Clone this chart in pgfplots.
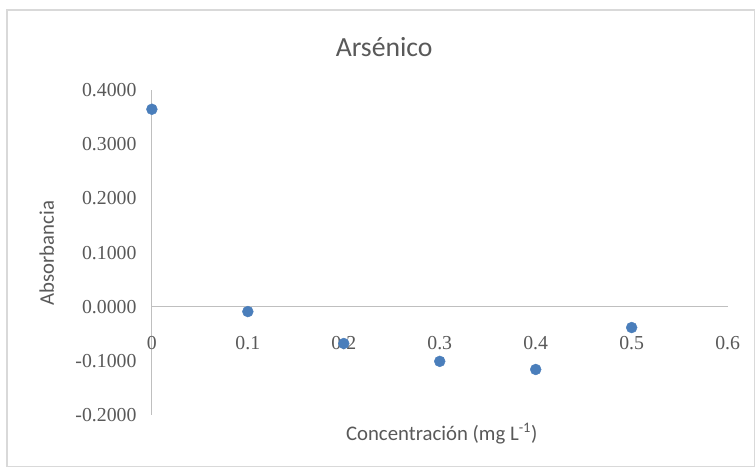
\documentclass[border=0pt]{standalone}
\usepackage{pgfplots}
\pgfplotsset{compat=1.18}
\usepackage{fontspec}
\setmainfont{Carlito}
\newfontfamily\tickfont{Liberation Serif}
\definecolor{mk}{HTML}{4A7EBB}
\definecolor{txt}{HTML}{595959}
\definecolor{ax}{HTML}{BFBFBF}
\begin{document}
\begin{tikzpicture}[x=1bp,y=1bp]
\path[fill=white] (0,0) rectangle (755,468);
\draw[color=black!15, line width=1.2bp] (7,-2) rectangle (760,458);
\begin{axis}[
  at={(153bp,50bp)}, anchor=south west,
  scale only axis, width=580bp, height=327bp,
  xmin=0, xmax=0.6, ymin=-0.2, ymax=0.4,
  axis x line=middle, axis y line=left,
  hide obscured x ticks=false,
  axis line style={color=ax, line width=0.8bp, -},
  xtick={0,0.1,0.2,0.3,0.4,0.5,0.6},
  ytick={-0.2,-0.1,0,0.1,0.2,0.3,0.4},
  xticklabels={0,0.1,0.2,0.3,0.4,0.5,0.6},
  major tick length=0pt,
  yticklabel={\pgfmathprintnumber[fixed,fixed zerofill,precision=4]{\tick}},
  /pgf/number format/assume math mode=true,
  tick label style={font=\tickfont\fontsize{20}{22}\selectfont, text=txt},
  xticklabel style={yshift=-26bp},
  yticklabel style={xshift=-12bp},
  clip=false,
]
\addplot[only marks, mark=*, mark size=5.5bp, color=mk, mark options={fill=mk, draw=mk}] coordinates {
(0,0.365) (0.1,-0.009) (0.2,-0.068) (0.3,-0.101) (0.4,-0.116) (0.5,-0.0385)
};
\end{axis}
\node[text=txt, font=\fontsize{28}{32}\selectfont] at (387,421) {Arsénico};
\node[text=txt, font=\fontsize{21}{24}\selectfont, rotate=90] at (47,213) {Absorbancia};
\node[text=txt, font=\fontsize{21}{24}\selectfont] at (445,31) {Concentración (mg L\textsuperscript{-1})};
\end{tikzpicture}
\end{document}
